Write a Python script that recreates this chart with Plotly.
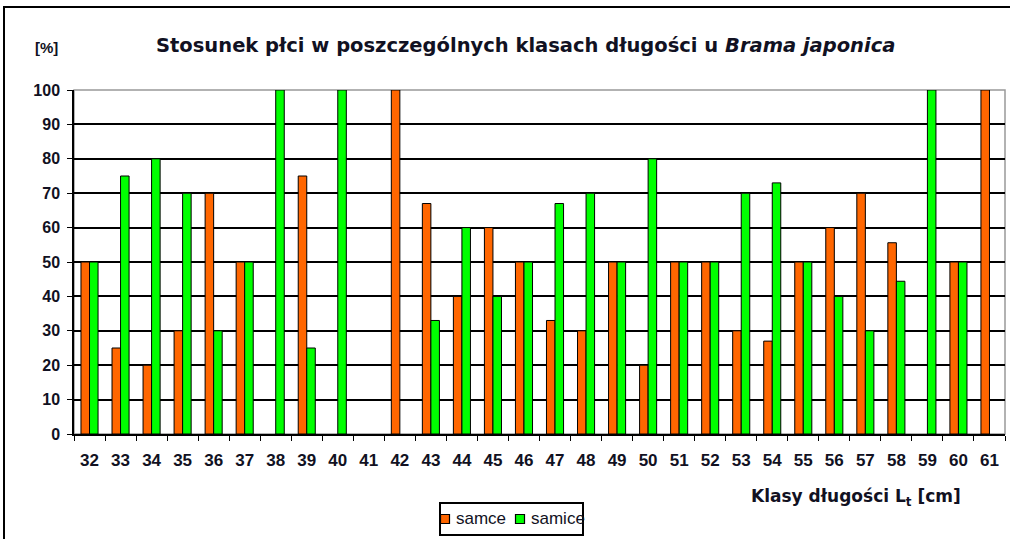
import plotly.graph_objects as go

categories = [str(c) for c in range(32, 62)]
samce = [50, 25, 20, 30, 70, 50, 0, 75, 0, 0, 100, 67, 40, 60, 50, 33, 30, 50, 20, 50,
         50, 30, 27, 50, 60, 70, 55.6, 0, 50, 100]
samice = [50, 75, 80, 70, 30, 50, 100, 25, 100, 0, 0, 33, 60, 40, 50, 67, 70, 50, 80, 50,
          50, 70, 73, 50, 40, 30, 44.4, 100, 50, 0]
y_ticks = list(range(0, 101, 10))
series_names = ["samce", "samice"]
series_colors = ["#FF6600", "#00FF00"]

W, H = 1010, 539
L, R, T, B = 74, 5, 90, 105
pw, ph = W - L - R, H - T - B

def px(x):
    return (x - L) / pw

def py(y):
    return (H - B - y) / ph

font = "Liberation Sans, Arial, sans-serif"
wide = "DejaVu Sans, sans-serif"

fig = go.Figure()
for name, vals, col in zip(series_names, [samce, samice], series_colors):
    fig.add_trace(go.Bar(x=categories, y=vals, name=name, showlegend=False,
                         marker=dict(color=col,
                                     line=dict(color="black",
                                               width=[0 if v == 0 else 1 for v in vals]))))

fig.update_layout(
    width=W, height=H,
    margin=dict(l=L, r=R, t=T, b=B, autoexpand=False),
    paper_bgcolor="white", plot_bgcolor="white",
    barmode="group", bargap=0.45, bargroupgap=0,
    font=dict(family=font, color="#111122"),
    showlegend=False,
    xaxis=dict(type="category", tickson="boundaries", ticks="outside", ticklen=5,
               tickcolor="black", showline=True, linecolor="black", linewidth=1.5,
               showgrid=False, tickfont=dict(size=17, family=font, weight="bold"),
               ticklabelstandoff=10, fixedrange=True),
    yaxis=dict(range=[0, 100], tickvals=y_ticks, ticks="outside", ticklen=5,
               tickcolor="black", showline=True, linecolor="black", linewidth=1.5,
               showgrid=True, gridcolor="black", gridwidth=1.5,
               tickfont=dict(size=16, family=font, weight="bold"), zeroline=False,
               ticklabelstandoff=4, fixedrange=True),
)

fig.add_annotation(xref="paper", yref="paper", x=px(525), y=py(45),
                   text="Stosunek płci w poszczególnych klasach długości u <i>Brama japonica</i>",
                   showarrow=False, font=dict(size=19.5, family=wide, weight="bold"),
                   xanchor="center", yanchor="middle")
fig.add_annotation(xref="paper", yref="paper", x=px(46), y=py(47),
                   text="[%]", showarrow=False,
                   font=dict(size=15, family=font, weight="bold"),
                   xanchor="center", yanchor="middle")
fig.add_annotation(xref="paper", yref="paper", x=px(963), y=py(497),
                   text="Klasy długości L<sub>t</sub> [cm]", showarrow=False,
                   font=dict(size=17, family=wide, weight="bold"),
                   xanchor="right", yanchor="middle")

# legend (drawn by hand to match the compact box)
fig.add_shape(type="rect", xref="paper", yref="paper", x0=px(440), x1=px(583),
              y0=py(535), y1=py(503), line=dict(color="black", width=2),
              fillcolor="white")
leg_sym_x = [445, 520]
leg_txt_x = [454, 529]
for name, col, sx, tx in zip(series_names, series_colors, leg_sym_x, leg_txt_x):
    fig.add_shape(type="rect", xref="paper", yref="paper", x0=px(sx - 4.5), x1=px(sx + 4.5),
                  y0=py(523.5), y1=py(514.5), line=dict(color="black", width=1.2),
                  fillcolor=col)
    fig.add_annotation(xref="paper", yref="paper", x=px(tx), y=py(518), text=name,
                       showarrow=False, xanchor="left", yanchor="middle",
                       font=dict(size=17, family=font))

# plot-area frame (grey) and outer chart border
fig.add_shape(type="rect", xref="paper", yref="paper", x0=0, x1=1, y0=0, y1=1,
              line=dict(color="#999999", width=1.5), layer="below")
fig.add_shape(type="rect", xref="paper", yref="paper", x0=px(4), x1=px(1015),
              y0=py(545), y1=py(7), line=dict(color="black", width=2))

fig.write_html("out.html", config={"displayModeBar": False},
               post_script="document.body.style.margin='0px';")
